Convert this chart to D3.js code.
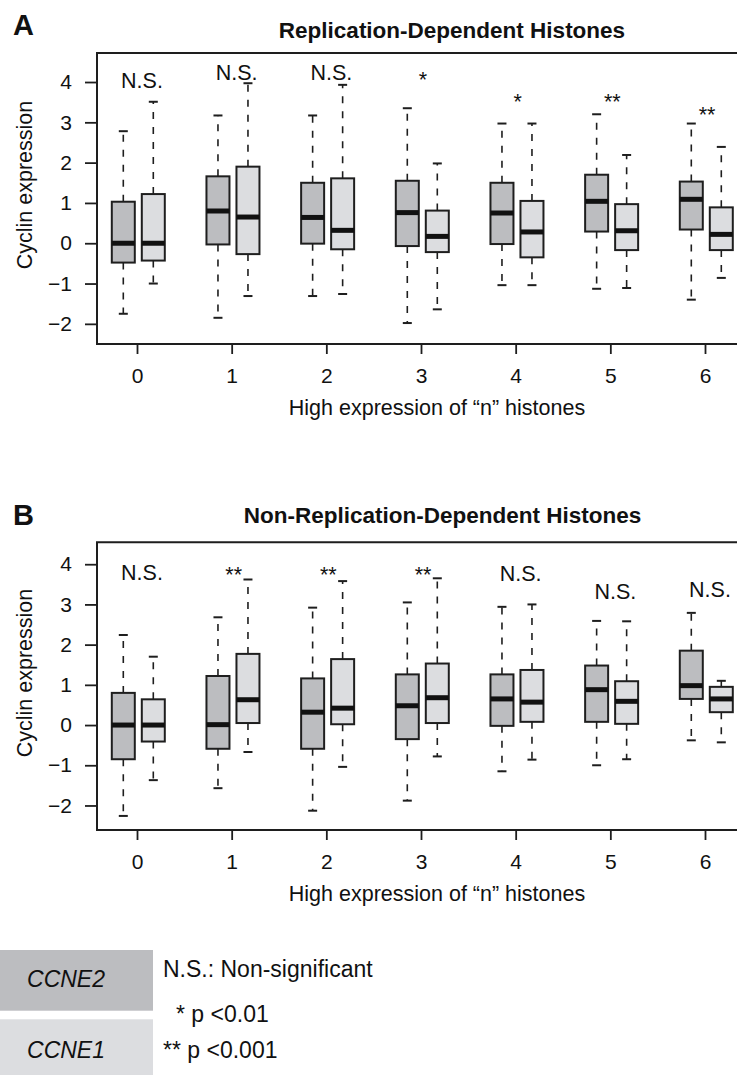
<!DOCTYPE html>
<html><head><meta charset="utf-8">
<script src="https://cdn.jsdelivr.net/npm/d3@7"></script>
<style>
html,body{margin:0;padding:0;background:#fff;}
svg text{font-family:"Liberation Sans",Arial,Helvetica,sans-serif;fill:#111;}
</style></head>
<body><svg id="c" width="737" height="1075"></svg>
<script>
// ---------- data ----------
const groups = [0,1,2,3,4,5,6];
const yTicks = [-2,-1,0,1,2,3,4];
const seriesNames = ["CCNE2","CCNE1"];
// [lower whisker, Q1, median, Q3, upper whisker]
const repCCNE2 = [
  [-1.75,-0.48,0.00,1.03,2.78],
  [-1.85,-0.03,0.80,1.66,3.17],
  [-1.31,-0.01,0.64,1.50,3.17],
  [-1.98,-0.07,0.76,1.55,3.35],
  [-1.04,-0.02,0.75,1.50,2.97],
  [-1.13,0.29,1.04,1.70,3.20],
  [-1.40,0.34,1.09,1.53,2.97]
];
const repCCNE1 = [
  [-1.00,-0.43,0.00,1.22,3.51],
  [-1.31,-0.27,0.65,1.90,3.97],
  [-1.26,-0.15,0.32,1.61,3.93],
  [-1.64,-0.22,0.17,0.81,1.98],
  [-1.04,-0.35,0.28,1.05,2.97],
  [-1.11,-0.17,0.31,0.97,2.19],
  [-0.86,-0.17,0.22,0.89,2.39]
];
const nonRepCCNE2 = [
  [-2.26,-0.85,0.00,0.80,2.24],
  [-1.57,-0.59,0.01,1.22,2.68],
  [-2.13,-0.59,0.32,1.16,2.92],
  [-1.88,-0.35,0.48,1.26,3.05],
  [-1.15,-0.02,0.65,1.26,2.94],
  [-1.00,0.08,0.88,1.48,2.59],
  [-0.38,0.65,0.98,1.85,2.79]
];
const nonRepCCNE1 = [
  [-1.37,-0.41,0.00,0.64,1.70],
  [-0.67,0.05,0.63,1.77,3.62],
  [-1.04,0.02,0.42,1.64,3.58],
  [-0.78,0.05,0.68,1.53,3.65],
  [-0.86,0.08,0.57,1.37,3.00],
  [-0.85,0.03,0.59,1.09,2.58],
  [-0.43,0.32,0.65,0.95,1.10]
];
const repSigLabels = ["N.S.","N.S.","N.S.","*","*","**","**"];
const repSigY      = [3.85,4.05,4.05,3.87,3.32,3.32,3.00];
const nonRepSigLabels = ["N.S.","**","**","**","N.S.","N.S.","N.S."];
const nonRepSigY      = [3.61,3.57,3.57,3.57,3.58,3.13,3.18];
const legendNotes = ["N.S.: Non-significant","* p <0.01","** p <0.001"];

// ---------- drawing ----------
const svg = d3.select("#c");
const fillDark = "#bcbdc0", fillLight = "#dcdde0", ink = "#1e1e1e";
const x = d3.scaleLinear().domain([0,6]).range([137,705]);
const offDark = -13.7, offLight = 16.3, boxW = 23, capW = 9;

function panel(cfg){
  const g = svg.append("g");
  const y = d3.scaleLinear().domain(cfg.yDomain).range([cfg.bottom, cfg.top]);
  g.append("path")
    .attr("d", `M740,${cfg.top}H97V${cfg.bottom}H740`)
    .attr("fill","none").attr("stroke",ink).attr("stroke-width",2);
  const ya = g.append("g").attr("transform","translate(97,0)")
    .call(d3.axisLeft(y).tickValues(yTicks).tickSize(12).tickPadding(13)
      .tickFormat(d => d < 0 ? "\u2212" + Math.abs(d) : d));
  ya.select(".domain").remove();
  ya.selectAll("line").attr("stroke",ink).attr("stroke-width",1.8);
  ya.selectAll("text").attr("font-size",21).attr("fill","#111")
    .attr("font-family","Liberation Sans, Arial, sans-serif");
  const xa = g.append("g").attr("transform",`translate(0,${cfg.bottom})`)
    .call(d3.axisBottom(x).tickValues(groups).tickSize(10).tickPadding(14).tickFormat(d3.format("d")));
  xa.select(".domain").remove();
  xa.selectAll("line").attr("stroke",ink).attr("stroke-width",1.8);
  xa.selectAll("text").attr("font-size",21).attr("fill","#111")
    .attr("font-family","Liberation Sans, Arial, sans-serif");
  const series = [{data:cfg.dark, off:offDark, fill:fillDark},{data:cfg.light, off:offLight, fill:fillLight}];
  series.forEach(s=>{
    const bg = g.append("g").selectAll("g").data(s.data).join("g")
      .attr("transform",(d,i)=>`translate(${x(groups[i])+s.off},0)`);
    bg.append("line").attr("x1",0).attr("x2",0)
      .attr("y1",d=>y(d[3])).attr("y2",d=>y(d[4]))
      .attr("stroke",ink).attr("stroke-width",1.6).attr("stroke-dasharray","7,8");
    bg.append("line").attr("x1",0).attr("x2",0)
      .attr("y1",d=>y(d[1])).attr("y2",d=>y(d[0]))
      .attr("stroke",ink).attr("stroke-width",1.6).attr("stroke-dasharray","7,8");
    [0,4].forEach(k=>{
      bg.append("line").attr("x1",-capW/2).attr("x2",capW/2)
        .attr("y1",d=>y(d[k])).attr("y2",d=>y(d[k]))
        .attr("stroke",ink).attr("stroke-width",2);
    });
    bg.append("rect").attr("x",-boxW/2).attr("width",boxW)
      .attr("y",d=>y(d[3])).attr("height",d=>y(d[1])-y(d[3]))
      .attr("fill",s.fill).attr("stroke",ink).attr("stroke-width",2);
    bg.append("line").attr("x1",-boxW/2).attr("x2",boxW/2)
      .attr("y1",d=>y(d[2])).attr("y2",d=>y(d[2]))
      .attr("stroke","#111").attr("stroke-width",5);
  });
  g.append("g").selectAll("text").data(cfg.sig).join("text")
    .attr("x",(d,i)=>x(groups[i]) + (d==="N.S."?5:2))
    .attr("y",(d,i)=>y(cfg.sigY[i]))
    .attr("text-anchor","middle").attr("font-size",21.5).text(d=>d);
  g.append("text").attr("x",13).attr("y",cfg.letterY).attr("font-size",29)
    .attr("font-weight","bold").text(cfg.letter);
  g.append("text").attr("x",cfg.titleX).attr("y",cfg.titleY).attr("text-anchor","middle")
    .attr("font-size",22.5).attr("font-weight","bold").text(cfg.title);
  g.append("text").attr("x",437).attr("y",cfg.bottom+71).attr("text-anchor","middle")
    .attr("font-size",21.5).text("High expression of \u201Cn\u201D histones");
  g.append("text").attr("transform",`translate(32,${cfg.ylabY}) rotate(-90)`)
    .attr("text-anchor","middle").attr("font-size",21.5).text("Cyclin expression");
}

panel({top:53,bottom:344,yDomain:[-2.5,4.72],dark:repCCNE2,light:repCCNE1,
  sig:repSigLabels,sigY:repSigY,letter:"A",letterY:35,title:"Replication-Dependent Histones",
  titleX:452,titleY:38,ylabY:185});
panel({top:542.3,bottom:830,yDomain:[-2.61,4.545],dark:nonRepCCNE2,light:nonRepCCNE1,
  sig:nonRepSigLabels,sigY:nonRepSigY,letter:"B",letterY:525,title:"Non-Replication-Dependent Histones",
  titleX:442.5,titleY:523,ylabY:673});

// legend
const leg = svg.append("g");
const legFills = [fillDark, fillLight];
const legRows = [[950,1010.7],[1019.3,1080]];
leg.selectAll("rect").data(seriesNames).join("rect")
  .attr("x",0).attr("width",153)
  .attr("y",(d,i)=>legRows[i][0]).attr("height",(d,i)=>legRows[i][1]-legRows[i][0])
  .attr("fill",(d,i)=>legFills[i]);
leg.selectAll("text.ser").data(seriesNames).join("text").attr("class","ser")
  .attr("x",66).attr("y",(d,i)=>[987,1058][i]).attr("text-anchor","middle")
  .attr("font-size",23).attr("font-style","italic").text(d=>d);
leg.selectAll("text.note").data(legendNotes).join("text").attr("class","note")
  .attr("x",(d,i)=>[163,176,163][i]).attr("y",(d,i)=>[977,1022,1058][i])
  .attr("font-size",23).text(d=>d);
</script></body></html>
